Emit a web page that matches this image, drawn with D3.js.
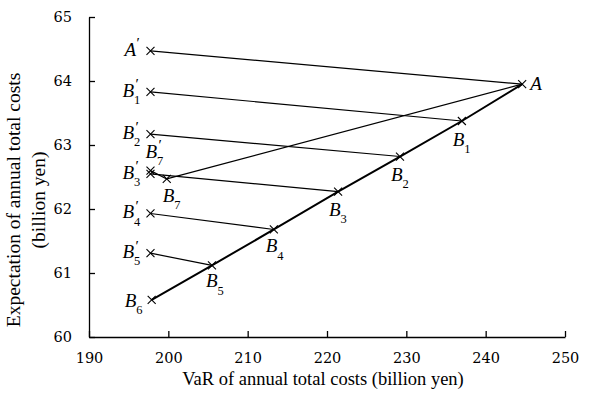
<!DOCTYPE html>
<html>
<head>
<meta charset="utf-8">
<script src="https://cdn.jsdelivr.net/npm/d3@7"></script>
<style>
  html, body { margin: 0; padding: 0; background: #fff; }
  svg { display: block; }
  text { fill: #000; }
</style>
</head>
<body>
<svg id="chart" width="608" height="407"></svg>
<script>
// Efficient frontier points: VaR vs expected annual total costs (billion yen)
const pointNames = ["A", "B1", "B2", "B3", "B4", "B5", "B6", "B7"];
const pointVaR   = [244.6, 237.0, 229.2, 221.4, 213.3, 205.5, 197.9, 199.8];
const pointExp   = [63.95, 63.375, 62.82, 62.27, 61.68, 61.12, 60.58, 62.47];

// Primed points (projected onto the left side)
const primeNames = ["A", "B1", "B2", "B3", "B4", "B5", "B7"];
const primeVaR   = [197.75, 197.75, 197.75, 197.75, 197.75, 197.75, 197.75];
const primeExp   = [64.47, 63.83, 63.17, 62.55, 61.93, 61.31, 62.6];

// Frontier polyline order
const frontierOrder = ["A", "B1", "B2", "B3", "B4", "B5", "B6"];
// Extra connector
const extraLinks = [["B7", "A"]];

const xTicks = [190, 200, 210, 220, 230, 240, 250];
const yTicks = [60, 61, 62, 63, 64, 65];

const serif = "'Liberation Serif', 'Times New Roman', serif";
const tickFont = "'DejaVu Serif', serif";

const svg = d3.select("#chart");
const x = d3.scaleLinear().domain([190, 250]).range([89, 565]);
const y = d3.scaleLinear().domain([60, 65]).range([337, 17]);

const pts = new Map(pointNames.map((n, i) => [n, { x: pointVaR[i], y: pointExp[i] }]));
const primes = new Map(primeNames.map((n, i) => [n, { x: primeVaR[i], y: primeExp[i] }]));

// Axes
const xAxis = svg.append("g").attr("transform", `translate(0,${y(60)})`)
  .call(d3.axisBottom(x).tickValues(xTicks).tickFormat(d3.format("d"))
    .tickSizeInner(-6).tickSizeOuter(0).tickPadding(16));
const yAxis = svg.append("g").attr("transform", `translate(${x(190)},0)`)
  .call(d3.axisLeft(y).tickValues(yTicks).tickFormat(d3.format("d"))
    .tickSizeInner(-6).tickSizeOuter(0).tickPadding(17));
[xAxis, yAxis].forEach(g => {
  g.attr("font-family", tickFont);
  g.selectAll("path, line").attr("stroke", "#000").attr("stroke-width", 1.3);
  g.selectAll("text").attr("font-family", tickFont).attr("font-size", 14.5).attr("fill", "#000");
});

// Axis titles
svg.append("text").attr("x", 323).attr("y", 385).attr("text-anchor", "middle")
  .attr("font-family", serif).attr("font-size", 18.5)
  .text("VaR of annual total costs (billion yen)");
const yt = svg.append("text").attr("transform", "translate(0,200) rotate(-90)")
  .attr("text-anchor", "middle").attr("font-family", serif).attr("font-size", 19.5);
yt.append("tspan").attr("x", 0).attr("y", 20).text("Expectation of annual total costs");
yt.append("tspan").attr("x", 0).attr("y", 45).text("(billion yen)");

// Connectors from primed points
const lines = svg.append("g").attr("stroke", "#000").attr("fill", "none");
primeNames.forEach(n => {
  const p = primes.get(n), q = pts.get(n);
  lines.append("line")
    .attr("x1", x(p.x)).attr("y1", y(p.y)).attr("x2", x(q.x)).attr("y2", y(q.y))
    .attr("stroke-width", 1.2);
});
extraLinks.forEach(([a, b]) => {
  const p = pts.get(a), q = pts.get(b);
  lines.append("line")
    .attr("x1", x(p.x)).attr("y1", y(p.y)).attr("x2", x(q.x)).attr("y2", y(q.y))
    .attr("stroke-width", 1.2);
});

// Frontier line
svg.append("path")
  .datum(frontierOrder.map(n => pts.get(n)))
  .attr("fill", "none").attr("stroke", "#000").attr("stroke-width", 2)
  .attr("d", d3.line().x(d => x(d.x)).y(d => y(d.y)));

// Cross markers
const marks = svg.append("g").attr("stroke", "#000").attr("stroke-width", 1.1);
function cross(cx, cy) {
  const s = 4;
  marks.append("path").attr("d", `M${cx - s},${cy - s}L${cx + s},${cy + s}M${cx - s},${cy + s}L${cx + s},${cy - s}`);
}
pts.forEach(p => cross(x(p.x), y(p.y)));
primes.forEach(p => cross(x(p.x), y(p.y)));

// Labels: italic letter with optional prime (above) and subscript (below)
const labels = svg.append("g").attr("font-family", serif);
function label(px, py, name, isPrime) {
  const letter = name[0];
  const sub = name.slice(1);
  const w = letter === "A" ? 10.5 : 11.5;
  const t = labels.append("text").attr("x", px).attr("y", py);
  t.append("tspan").attr("font-size", 19).attr("font-style", "italic").text(letter);
  if (isPrime) {
    t.append("tspan").attr("x", px + w + 0.5).attr("y", py - 7.5)
      .attr("font-size", 15.5).attr("font-style", "italic").text("′");
  }
  if (sub) {
    t.append("tspan").attr("x", px + w).attr("y", py + 7.2)
      .attr("font-size", 12.5).text(sub);
  }
}
// Offsets of label baseline-left from each marker
const pointOffsets = {
  A: [8, 6], B1: [-9, 25], B2: [-9, 24], B3: [-9, 24], B4: [-8, 23],
  B5: [-6, 22], B6: [-27, 7], B7: [-4, 23]
};
const primeOffsets = {
  A: [-26, 5], B1: [-28, 5], B2: [-28, 5], B3: [-28, 5], B4: [-28, 5],
  B5: [-28, 5], B7: [-5, -13]
};
pointNames.forEach(n => {
  const p = pts.get(n), o = pointOffsets[n];
  label(x(p.x) + o[0], y(p.y) + o[1], n, false);
});
primeNames.forEach(n => {
  const p = primes.get(n), o = primeOffsets[n];
  label(x(p.x) + o[0], y(p.y) + o[1], n, true);
});
</script>
</body>
</html>
